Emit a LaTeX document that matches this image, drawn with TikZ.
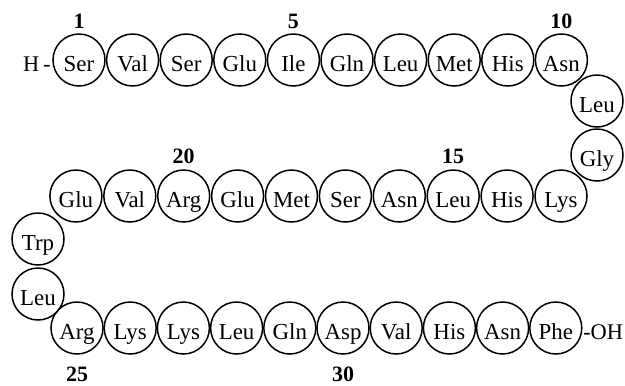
\documentclass[tikz,border=0pt]{standalone}
\usepackage{fontspec}
\setmainfont{Liberation Serif}
\begin{document}
\begin{tikzpicture}[x=1bp,y=-1bp,
  res/.style={draw=black, line width=1.5bp, circle, minimum size=52bp, inner sep=0pt,
    font=\fontsize{23}{25}\selectfont, text height=23bp, text depth=1bp},
  endtxt/.style={inner sep=0pt, font=\fontsize{22.5}{25}\selectfont, text height=23bp, text depth=1bp},
  num/.style={inner sep=0pt, font=\fontsize{22}{24}\selectfont\bfseries}]
\useasboundingbox (0,0) rectangle (625,385);
% row 1 (1-10)
\foreach \n/\t [count=\i from 0] in {1/Ser,2/Val,3/Ser,4/Glu,5/Ile,6/Gln,7/Leu,8/Met,9/His,10/Asn}
  \node[res] (r\n) at ({79+53.6*\i},60) {\t};
% turn
\node[res] (r11) at (597,101) {Leu};
\node[res] (r12) at (597,155) {Gly};
% row 2 (13-22), right to left
\foreach \n/\t [count=\i from 0] in {13/Lys,14/His,15/Leu,16/Asn,17/Ser,18/Met,19/Glu,20/Arg,21/Val,22/Glu}
  \node[res] (r\n) at ({561-53.9*\i},196) {\t};
% turn
\node[res] (r23) at (38,239) {Trp};
\node[res] (r24) at (38,294) {Leu};
% row 3 (25-34)
\foreach \n/\t [count=\i from 0] in {25/Arg,26/Lys,27/Lys,28/Leu,29/Gln,30/Asp,31/Val,32/His,33/Asn,34/Phe}
  \node[res] (r\n) at ({77+53.2*\i},328) {\t};
% termini
\node[endtxt, anchor=east] (hterm) at ([xshift=-1.5bp]r1.west) {H\,-};
\node[endtxt, anchor=west] (ohterm) at ([xshift=0.5bp]r34.east) {-OH};
% numbers
\node[num] (n1) at (r1 |- 0,21) {1};
\node[num] (n5) at (r5 |- 0,21) {5};
\node[num] (n10) at (r10 |- 0,21) {10};
\node[num] (n15) at (r15 |- 0,156) {15};
\node[num] (n20) at (r20 |- 0,156) {20};
\node[num] (n25) at (r25 |- 0,374) {25};
\node[num] (n30) at (r30 |- 0,374) {30};
\end{tikzpicture}
\end{document}
